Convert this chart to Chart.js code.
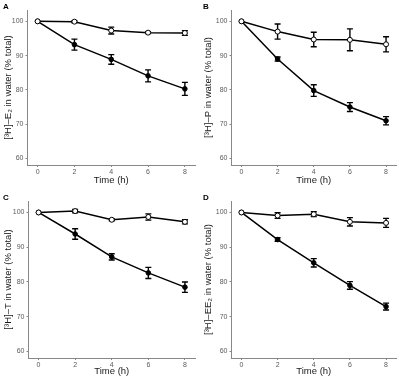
<!DOCTYPE html>
<html lang="en">
<head>
  <meta charset="UTF-8">
  <title>Tritiated hormones in water</title>
  <script src="https://cdn.jsdelivr.net/npm/chart.js"></script>
  <style>
    body {
      margin: 0;
      background: #fff;
      font-family: "Liberation Sans", Arial, sans-serif;
    }
    .wrap {
      position: relative;
      width: 401px;
      height: 377px;
    }
    .panel {
      position: absolute;
    }
    .tag {
      position: absolute;
      font-weight: bold;
      font-size: 8px;
      color: #000;
    }
  </style>
</head>
<body>
<div class="wrap">
  <canvas class="panel" id="chartA" width="200" height="189" style="left:0;top:0"></canvas>
  <canvas class="panel" id="chartB" width="201" height="189" style="left:200px;top:0"></canvas>
  <canvas class="panel" id="chartC" width="200" height="188" style="left:0;top:189px"></canvas>
  <canvas class="panel" id="chartD" width="201" height="188" style="left:200px;top:189px"></canvas>
  <div class="tag" style="left:3px;top:2px">A</div>
  <div class="tag" style="left:203px;top:2px">B</div>
  <div class="tag" style="left:3px;top:193px">C</div>
  <div class="tag" style="left:203px;top:193px">D</div>
</div>

<script>
  // time points and ticks
  const hours = [0, 2, 4, 6, 8];
  const xTicks = [0, 2, 4, 6, 8];
  const yTicks = [60, 70, 80, 90, 100];

  // A: E2
  const e2Control = [100, 99.9, 97.3, 96.7, 96.6];
  const e2ControlErr = [0, 0.3, 1.0, 0.3, 0.7];
  const e2Treated = [100, 93.2, 88.9, 84.1, 80.3];
  const e2TreatedErr = [0, 1.6, 1.4, 1.75, 1.9];

  // B: P
  const pControl = [100, 97.0, 94.7, 94.6, 93.3];
  const pControlErr = [0, 2.2, 2.1, 3.2, 2.2];
  const pTreated = [100, 89.0, 79.8, 75.0, 71.0];
  const pTreatedErr = [0, 0.6, 1.7, 1.3, 1.2];

  // C: T
  const tControl = [100, 100.4, 97.9, 98.7, 97.3];
  const tControlErr = [0, 0.5, 0.3, 0.9, 0.6];
  const tTreated = [100, 93.8, 87.2, 82.6, 78.5];
  const tTreatedErr = [0, 1.5, 0.9, 1.6, 1.5];

  // D: EE2
  const ee2Control = [100, 99.1, 99.5, 97.3, 97.0];
  const ee2ControlErr = [0, 0.8, 0.7, 1.2, 1.3];
  const ee2Treated = [100, 92.2, 85.5, 79.0, 72.9];
  const ee2TreatedErr = [0, 0.5, 1.2, 1.1, 1.0];

  const FONT = "'Liberation Sans', Arial, sans-serif";

  // draws the +/- error bars using the chart's own scales
  const errorBars = {
    id: 'errorBars',
    beforeDatasetsDraw(chart) {
      const ctx = chart.ctx;
      const xs = chart.scales.x, ys = chart.scales.y;
      ctx.save();
      ctx.strokeStyle = '#000';
      ctx.lineWidth = 1.4;
      chart.data.datasets.forEach(ds => {
        ds.data.forEach((p, i) => {
          const e = ds.errors[i];
          if (!e) return;
          const x = xs.getPixelForValue(p.x);
          const top = ys.getPixelForValue(p.y + e);
          const bot = ys.getPixelForValue(p.y - e);
          ctx.beginPath();
          ctx.moveTo(x, top); ctx.lineTo(x, bot);
          ctx.moveTo(x - 3, top); ctx.lineTo(x + 3, top);
          ctx.moveTo(x - 3, bot); ctx.lineTo(x + 3, bot);
          ctx.stroke();
        });
      });
      ctx.restore();
    }
  };

  function pts(vals) {
    return hours.map((h, i) => ({ x: h, y: vals[i] }));
  }

  function makePanel(id, ctrl, ctrlErr, treat, treatErr, yTitle, lay) {
    new Chart(document.getElementById(id), {
      type: 'line',
      data: {
        datasets: [
          {
            data: pts(ctrl), errors: ctrlErr,
            borderColor: '#000', borderWidth: 1.5,
            pointRadius: 2.5, pointBackgroundColor: '#fff',
            pointBorderColor: '#000', pointBorderWidth: 1
          },
          {
            data: pts(treat), errors: treatErr,
            borderColor: '#000', borderWidth: 1.5,
            pointRadius: 2.3, pointBackgroundColor: '#000',
            pointBorderColor: '#000', pointBorderWidth: 1
          }
        ]
      },
      options: {
        responsive: false,
        animation: false,
        devicePixelRatio: 1,
        layout: { padding: { top: lay.top, right: lay.right, left: 0, bottom: 0 } },
        plugins: { legend: { display: false }, tooltip: { enabled: false } },
        scales: {
          x: {
            type: 'linear', min: -0.55, max: 8.55,
            afterBuildTicks: s => { s.ticks = xTicks.map(v => ({ value: v })); },
            afterFit: s => { s.height = lay.xh; },
            grid: { drawOnChartArea: false, tickLength: 2, color: '#888' },
            border: { color: '#888', width: 1 },
            ticks: { color: '#5a5a5a', font: { family: FONT, size: 7 }, padding: 1, maxRotation: 0 },
            title: {
              display: true, text: 'Time (h)', color: '#1a1a1a',
              font: { family: FONT, size: 9.5 }, padding: { top: 0, bottom: lay.tb }
            }
          },
          y: {
            min: 58.1, max: 103.3,
            afterBuildTicks: s => { s.ticks = yTicks.map(v => ({ value: v })); },
            afterFit: s => { s.width = lay.yw; },
            grid: { drawOnChartArea: false, tickLength: 2, color: '#888' },
            border: { color: '#888', width: 1 },
            ticks: { color: '#5a5a5a', font: { family: FONT, size: 7 }, padding: 2 },
            title: {
              display: true, text: yTitle, color: '#1a1a1a',
              font: { family: FONT, size: 9.5 }, padding: { top: 3, bottom: 0 }
            }
          }
        }
      },
      plugins: [errorBars]
    });
  }

  makePanel('chartA', e2Control, e2ControlErr, e2Treated, e2TreatedErr,
    '[³H]–E₂ in water (% total)', { top: 10, right: 2.5, xh: 24, yw: 27.5, tb: 3 });
  makePanel('chartB', pControl, pControlErr, pTreated, pTreatedErr,
    '[³H]–P in water (% total)', { top: 10, right: 1, xh: 24, yw: 31.5, tb: 3 });
  makePanel('chartC', tControl, tControlErr, tTreated, tTreatedErr,
    '[³H]–T in water (% total)', { top: 12, right: 2, xh: 19, yw: 28.5, tb: 0 });
  makePanel('chartD', ee2Control, ee2ControlErr, ee2Treated, ee2TreatedErr,
    '[³H]–EE₂ in water (% total)', { top: 12, right: 3, xh: 19, yw: 31.5, tb: 0 });
</script>
</body>
</html>
